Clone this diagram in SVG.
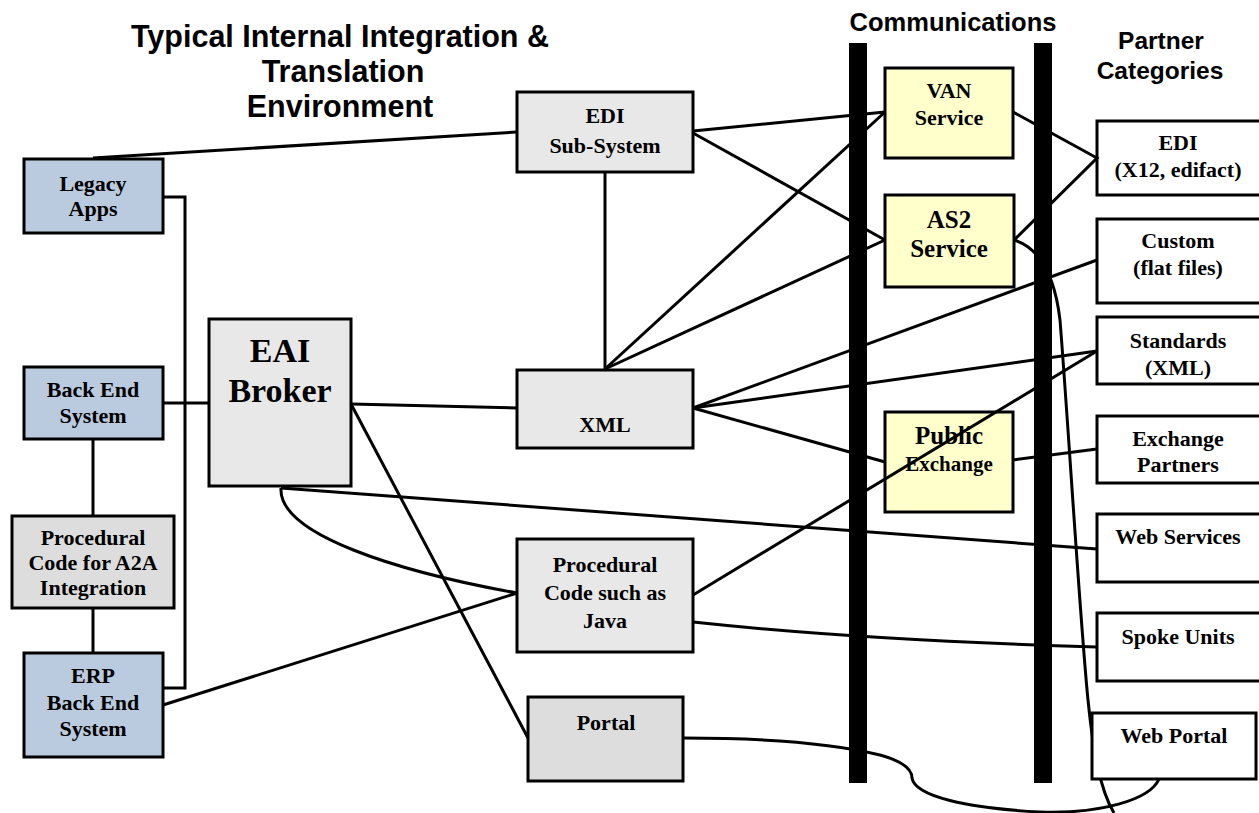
<svg xmlns="http://www.w3.org/2000/svg" width="1259" height="813" viewBox="0 0 1259 813">
  <style>
    .box { stroke: #000; stroke-width: 3; }
    .blue { fill: #BBCBDF; }
    .grey { fill: #E8E8E8; }
    .grey2 { fill: #DDDDDD; }
    .yellow { fill: #FFFFCC; }
    .white { fill: #FFFFFF; }
    .lbl { font-family: "Liberation Serif", "Times New Roman", serif; font-weight: bold; font-size: 22px; text-anchor: middle; fill: #000; }
    .big { font-size: 34px; }
    .mid { font-size: 25px; }
    .sm { font-size: 21px; }
    .head { font-family: "Liberation Sans", Arial, sans-serif; font-weight: bold; text-anchor: middle; fill: #000; }
    .h1 { font-size: 30.5px; }
    .h2 { font-size: 25.5px; }
    .h3 { font-size: 24.5px; }
    .conn { fill: none; stroke: #000; stroke-width: 3; }
    .bar { fill: #000; }
  </style>

  <rect width="1259" height="813" fill="#FFFFFF"/>

  <!-- headings -->
  <g id="headings">
    <text class="head h1" x="340" y="47">Typical Internal Integration &amp;</text>
    <text class="head h1" x="343" y="82">Translation</text>
    <text class="head h1" x="340" y="117">Environment</text>
    <text class="head h2" x="953" y="31">Communications</text>
    <text class="head h3" x="1161" y="49">Partner</text>
    <text class="head h3" x="1160" y="79">Categories</text>
  </g>

  <!-- communication bars -->
  <g id="comm-bars">
    <rect class="bar" x="849" y="43" width="18" height="740"/>
    <rect class="bar" x="1034" y="43" width="18" height="740"/>
  </g>

  <!-- internal systems -->
  <g id="legacy-apps">
    <rect class="box blue" x="24" y="159" width="139" height="74"/>
    <text class="lbl" x="93" y="191">Legacy</text>
    <text class="lbl" x="93" y="216">Apps</text>
  </g>
  <g id="back-end-system">
    <rect class="box blue" x="24" y="367" width="139" height="72"/>
    <text class="lbl" x="93" y="397">Back End</text>
    <text class="lbl" x="93" y="423">System</text>
  </g>
  <g id="procedural-a2a">
    <rect class="box grey2" x="12" y="516" width="162" height="92"/>
    <text class="lbl" x="93" y="545">Procedural</text>
    <text class="lbl" x="93" y="570">Code for A2A</text>
    <text class="lbl" x="93" y="595">Integration</text>
  </g>
  <g id="erp-back-end">
    <rect class="box blue" x="24" y="653" width="139" height="104"/>
    <text class="lbl" x="93" y="683">ERP</text>
    <text class="lbl" x="93" y="710">Back End</text>
    <text class="lbl" x="93" y="736">System</text>
  </g>
  <g id="eai-broker">
    <rect class="box grey" x="209" y="319" width="142" height="167"/>
    <text class="lbl big" x="280" y="362">EAI</text>
    <text class="lbl big" x="280" y="402">Broker</text>
  </g>

  <!-- translation layer -->
  <g id="edi-subsystem">
    <rect class="box grey" x="517" y="92" width="176" height="80"/>
    <text class="lbl" x="605" y="123">EDI</text>
    <text class="lbl" x="605" y="153">Sub-System</text>
  </g>
  <g id="xml">
    <rect class="box grey" x="517" y="370" width="176" height="78"/>
    <text class="lbl" x="605" y="432">XML</text>
  </g>
  <g id="procedural-java">
    <rect class="box grey" x="517" y="539" width="176" height="113"/>
    <text class="lbl" x="605" y="572">Procedural</text>
    <text class="lbl" x="605" y="600">Code such as</text>
    <text class="lbl" x="605" y="628">Java</text>
  </g>
  <g id="portal">
    <rect class="box grey2" x="528" y="697" width="155" height="84"/>
    <text class="lbl" x="606" y="730">Portal</text>
  </g>

  <!-- communication services -->
  <g id="van-service">
    <rect class="box yellow" x="885" y="68" width="128" height="90"/>
    <text class="lbl" x="949" y="98">VAN</text>
    <text class="lbl" x="949" y="125">Service</text>
  </g>
  <g id="as2-service">
    <rect class="box yellow" x="885" y="195" width="129" height="92"/>
    <text class="lbl mid" x="949" y="228">AS2</text>
    <text class="lbl mid" x="949" y="257">Service</text>
  </g>
  <g id="public-exchange">
    <rect class="box yellow" x="885" y="412" width="128" height="100"/>
    <text class="lbl mid" x="949" y="444">Public</text>
    <text class="lbl sm" x="949" y="471">Exchange</text>
  </g>

  <!-- partner categories -->
  <g id="partner-edi">
    <rect class="box white" x="1097" y="121" width="175" height="74"/>
    <text class="lbl" x="1178" y="150">EDI</text>
    <text class="lbl" x="1178" y="177">(X12, edifact)</text>
  </g>
  <g id="partner-custom">
    <rect class="box white" x="1097" y="219" width="175" height="84"/>
    <text class="lbl" x="1178" y="248">Custom</text>
    <text class="lbl" x="1178" y="275">(flat files)</text>
  </g>
  <g id="partner-standards">
    <rect class="box white" x="1097" y="317" width="175" height="67"/>
    <text class="lbl" x="1178" y="348">Standards</text>
    <text class="lbl" x="1178" y="375">(XML)</text>
  </g>
  <g id="partner-exchange">
    <rect class="box white" x="1097" y="416" width="175" height="67"/>
    <text class="lbl" x="1178" y="446">Exchange</text>
    <text class="lbl" x="1178" y="472">Partners</text>
  </g>
  <g id="partner-web-services">
    <rect class="box white" x="1097" y="514" width="175" height="68"/>
    <text class="lbl" x="1178" y="544">Web Services</text>
  </g>
  <g id="partner-spoke-units">
    <rect class="box white" x="1097" y="613" width="175" height="68"/>
    <text class="lbl" x="1178" y="644">Spoke Units</text>
  </g>

  <!-- connectors -->
  <g id="connectors">
    <!-- internal bus -->
    <path class="conn" d="M163,197 H185 V688 H163"/>
    <path class="conn" d="M163,403 H209"/>
    <path class="conn" d="M93,439 V516"/>
    <path class="conn" d="M93,608 V653"/>
    <path class="conn" d="M93,158 L517,132"/>
    <path class="conn" d="M163,705 L517,593"/>
    <!-- EAI broker links -->
    <path class="conn" d="M351,404 L517,408"/>
    <path class="conn" d="M351,404 L528,738"/>
    <path class="conn" d="M281,488 C278,535 400,572 517,593"/>
    <path class="conn" d="M281,488 L1097,549"/>
    <!-- translation links -->
    <path class="conn" d="M605,172 V370"/>
    <path class="conn" d="M693,131 L885,112"/>
    <path class="conn" d="M693,133 L885,240"/>
    <path class="conn" d="M605,369 L885,112"/>
    <path class="conn" d="M605,369 L885,240"/>
    <path class="conn" d="M693,408 L1097,260"/>
    <path class="conn" d="M693,408 L1097,351"/>
    <path class="conn" d="M693,408 L885,462"/>
    <path class="conn" d="M693,595 L1097,351"/>
    <path class="conn" d="M693,622 Q860,640 1097,647"/>
    <!-- service to partner links -->
    <path class="conn" d="M1013,112 L1097,158 L1014,240"/>
    <path class="conn" d="M1013,460 L1097,449"/>
    <path class="conn" d="M1014,240 Q1052,252 1060,320 C1068,420 1080,620 1088,700 C1093,750 1100,790 1114,813"/>
    <path class="conn" d="M683,738 C780,738 840,745 880,755 C905,762 912,770 912,778 C915,796 965,808 1040,812 C1100,814 1150,800 1159,779"/>
  </g>

  <!-- web portal sits over the AS2 curve where they meet -->
  <g id="partner-web-portal">
    <rect class="box white" x="1092" y="713" width="164" height="66"/>
    <text class="lbl" x="1174" y="743">Web Portal</text>
  </g>
</svg>
